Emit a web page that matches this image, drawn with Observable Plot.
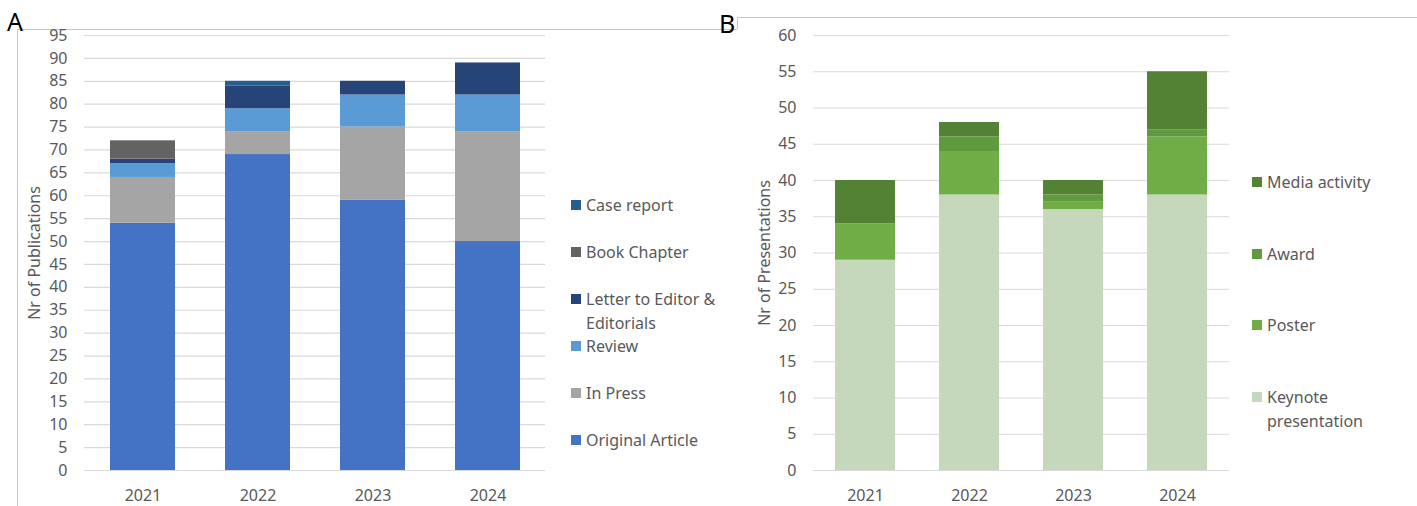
<!DOCTYPE html>
<html>
<head>
<meta charset="utf-8">
<script src="https://cdn.jsdelivr.net/npm/d3@7"></script>
<script src="https://cdn.jsdelivr.net/npm/@observablehq/plot@0.6"></script>
<style>
  html, body { margin: 0; padding: 0; background: #fff; }
  body { width: 1417px; height: 506px; position: relative; overflow: hidden; font-family: "Noto Sans", sans-serif; }
  .abs { position: absolute; }
  .hl { position: absolute; height: 1px; background: #c6c6c6; }
  .vl { position: absolute; width: 1px; background: #c6c6c6; }
  .panel { position: absolute; font-family: "Noto Sans", sans-serif; font-size: 25px; color: #000; line-height: 1; }
  .legend { position: absolute; font-size: 16px; color: #595959; line-height: 24px; }
  .legend .item { position: relative; padding-left: 15px; }
  .legend .sw { position: absolute; left: 0; top: 7px; width: 10px; height: 10px; }
</style>
</head>
<body>
<div class="hl" style="left:17px; top:29px; width:720px;"></div>
<div class="vl" style="left:17px; top:29px; height:477px;"></div>
<div class="vl" style="left:737px; top:17px; height:12px;"></div>
<div class="hl" style="left:737px; top:17px; width:680px;"></div>
<div class="panel" style="left:7px; top:9px;">A</div>
<div class="panel" style="left:719px; top:11px;">B</div>
<div id="chartA" class="abs" style="left:0; top:0;"></div>
<div id="chartB" class="abs" style="left:720px; top:0;"></div>
<div id="legendA" class="legend" style="left:571px; top:193px; width:150px;"></div>
<div id="legendB" class="legend" style="left:1252px; top:170px; width:135px;"></div>
<script>
// ---------- Data ----------
const years = ["2021", "2022", "2023", "2024"];

// Panel A: publications (bottom to top stacking order)
const pubSeries = ["Original Article", "In Press", "Review", "Letter to Editor & Editorials", "Book Chapter", "Case report"];
const pubColors = ["#4472C4", "#A5A5A5", "#5B9BD5", "#264478", "#636363", "#255E91"];
const originalArticle = [54, 69, 59, 50];
const inPress = [10, 5, 16, 24];
const review = [3, 5, 7, 8];
const letterEditorials = [1, 5, 3, 7];
const bookChapter = [4, 0, 0, 0];
const caseReport = [0, 1, 0, 0];
const pubValues = [originalArticle, inPress, review, letterEditorials, bookChapter, caseReport];
const pubTicks = d3.range(0, 96, 5);

// Panel B: presentations (bottom to top stacking order)
const presSeries = ["Keynote presentation", "Poster", "Award", "Media activity"];
const presColors = ["#C5D8BC", "#70AD47", "#5F9A3E", "#548235"];
const keynote = [29, 38, 36, 38];
const poster = [5, 6, 1, 8];
const award = [0, 2, 1, 1];
const media = [6, 2, 2, 8];
const presValues = [keynote, poster, award, media];
const presTicks = d3.range(0, 61, 5);

// ---------- Build tables ----------
const pubData = years.flatMap((yr, i) => pubSeries.map((s, j) => ({year: yr, type: s, value: pubValues[j][i]})));
const presData = years.flatMap((yr, i) => presSeries.map((s, j) => ({year: yr, type: s, value: presValues[j][i]})));

const common = {
  height: 506,
  marginTop: 35,
  marginBottom: 36,
  style: {fontFamily: "Noto Sans", fontSize: "16px", color: "#595959", background: "transparent", overflow: "visible"}
};

const chartA = Plot.plot({
  ...common,
  width: 560,
  marginLeft: 84,
  marginRight: 15,
  x: {domain: years, paddingInner: 0.436, paddingOuter: 0.218, label: null, tickSize: 0, tickPadding: 19},
  y: {domain: [0, 95], ticks: pubTicks, tickSize: 0, tickPadding: 17, label: "Nr of Publications", labelAnchor: "center", labelArrow: "none", labelOffset: 56},
  color: {domain: pubSeries, range: pubColors},
  marks: [
    Plot.ruleY(pubTicks, {stroke: "#d9d9d9", strokeWidth: 1.2}),
    Plot.barY(pubData, {x: "year", y: "value", fill: "type", order: pubSeries})
  ]
});
document.getElementById("chartA").appendChild(chartA);

const chartB = Plot.plot({
  ...common,
  width: 520,
  marginLeft: 93,
  marginRight: 11,
  x: {domain: years, paddingInner: 0.423, paddingOuter: 0.2115, label: null, tickSize: 0, tickPadding: 19},
  y: {domain: [0, 60], ticks: presTicks, tickSize: 0, tickPadding: 17, label: "Nr of Presentations", labelAnchor: "center", labelArrow: "none", labelOffset: 55},
  color: {domain: presSeries, range: presColors},
  marks: [
    Plot.ruleY(presTicks, {stroke: "#d9d9d9", strokeWidth: 1.2}),
    Plot.barY(presData, {x: "year", y: "value", fill: "type", order: presSeries})
  ]
});
document.getElementById("chartB").appendChild(chartB);

// ---------- Legends (top to bottom = reverse of stack order) ----------
function legend(el, series, colors, itemHeight) {
  const idx = series.map((_, i) => i).reverse();
  for (const i of idx) {
    const item = document.createElement("div");
    item.className = "item";
    item.style.height = itemHeight + "px";
    const sw = document.createElement("span");
    sw.className = "sw";
    sw.style.background = colors[i];
    item.appendChild(sw);
    item.appendChild(document.createTextNode(series[i]));
    el.appendChild(item);
  }
}
legend(document.getElementById("legendA"), pubSeries, pubColors, 47);
legend(document.getElementById("legendB"), presSeries, presColors, 71.5);
</script>
</body>
</html>
